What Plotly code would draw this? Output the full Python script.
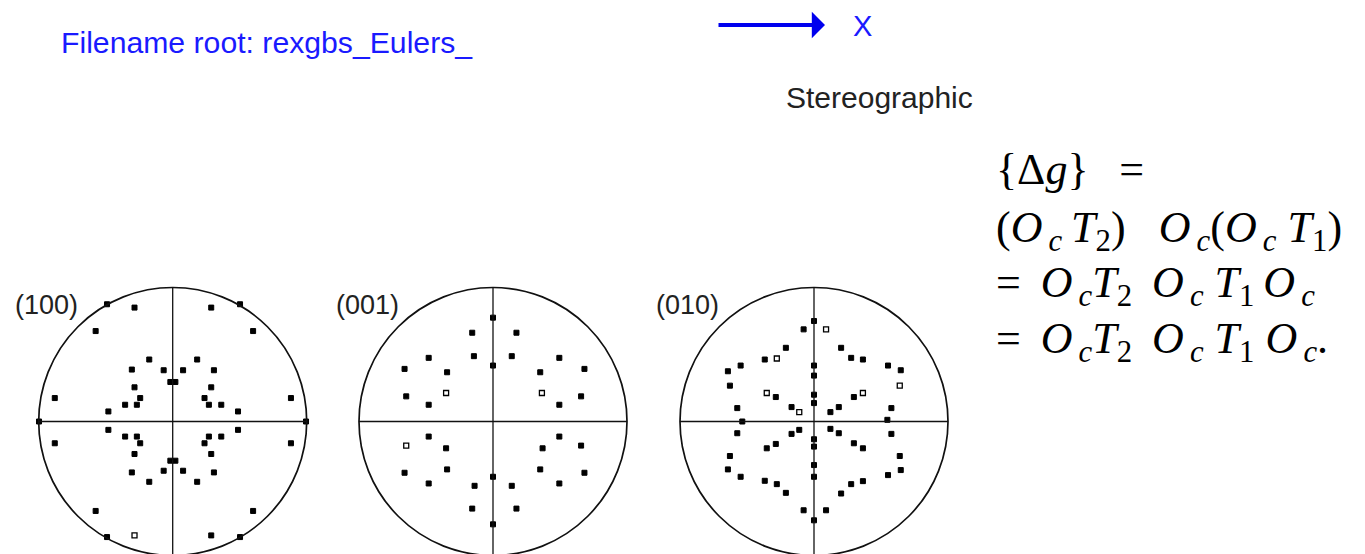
import plotly.graph_objects as go

# Pole figure projections (unit circle = equator of the stereographic net)
pf100_x = [-0.49, -0.285, 0.2875, 0.5025, -0.575, 0.60, -0.175, 0.1825, -0.305, -0.0675,
           0.0775, 0.3075, -0.0175, 0.02, -0.285, 0.2875, -0.2425, 0.2375, -0.355, -0.2675,
           0.27, 0.3625, -0.48, 0.4875, -0.88, 0.8825, -0.9975, 0.995, -0.48, 0.4875,
           -0.355, -0.2675, -0.2425, 0.2375, 0.27, 0.3625, -0.88, 0.8825, -0.285, 0.2875,
           -0.0175, 0.02, -0.305, -0.0675, 0.0775, 0.3075, -0.175, 0.1825, -0.575, 0.60,
           -0.49, 0.2875, 0.5025]
pf100_y = [0.875, 0.85, 0.85, 0.875, 0.675, 0.675, 0.4625, 0.4625, 0.3875, 0.3825,
           0.3825, 0.3825, 0.295, 0.295, 0.255, 0.255, 0.175, 0.175, 0.125, 0.125,
           0.125, 0.125, 0.075, 0.075, 0.175, 0.175, 0.0, 0.0, -0.0625, -0.0625,
           -0.1125, -0.1125, -0.1625, -0.1625, -0.1125, -0.1125, -0.1625, -0.1625, -0.2425, -0.2425,
           -0.2925, -0.2925, -0.38, -0.3675, -0.3675, -0.38, -0.45, -0.45, -0.6675, -0.6675,
           -0.8625, -0.85, -0.8625]
pf100_open_x = [-0.285]
pf100_open_y = [-0.85]

pf001_x = [0.0, 0.0, 0.0, 0.0, -0.155, 0.175, -0.1425, 0.14, -0.48, 0.495,
           -0.66, 0.6825, -0.3425, 0.3525, -0.6475, 0.6575, -0.48, 0.495, -0.48, 0.495,
           0.6575, -0.35, 0.37, -0.66, 0.6825, -0.3425, 0.3525, -0.48, 0.495, -0.1375,
           0.14, -0.155, 0.175]
pf001_y = [0.775, 0.4175, -0.4125, -0.7675, 0.6625, 0.6625, 0.4875, 0.4875, 0.475, 0.475,
           0.3925, 0.3925, 0.3675, 0.3675, 0.1875, 0.1875, 0.125, 0.125, -0.1125, -0.1125,
           -0.18, -0.2, -0.2, -0.3825, -0.3825, -0.3575, -0.3575, -0.4625, -0.4625, -0.48,
           -0.48, -0.65, -0.65]
pf001_open_x = [-0.35, 0.365, -0.6475]
pf001_open_y = [0.2125, 0.2125, -0.18]

pf010_x = [0.0, 0.0, -0.0775, -0.21, 0.2025, -0.3675, 0.2775, 0.365, -0.5475, -0.6425,
           0.5525, 0.6475, -0.6275, 0.0, 0.0, 0.0, 0.0, -0.285, 0.2975, -0.5725,
           0.5775, -0.1675, 0.1225, 0.185, -0.535, 0.5475, -0.5725, 0.5775, -0.1675, -0.11,
           0.1225, 0.185, -0.3525, -0.285, 0.2975, 0.365, 0.0, 0.0, 0.0, 0.0,
           -0.6275, 0.64, -0.6425, -0.5475, 0.5525, 0.6475, -0.3675, -0.2775, -0.21, 0.2025,
           0.2775, 0.365, -0.0775, 0.09]
pf010_y = [0.75, -0.7375, 0.6875, 0.55, 0.55, 0.4625, 0.475, 0.4625, 0.4175, 0.375,
           0.4175, 0.3825, 0.2675, 0.4175, 0.3425, 0.2, 0.1375, 0.1825, 0.1825, 0.1,
           0.1, 0.1075, 0.07, 0.1075, 0.0, 0.0125, -0.0875, -0.0925, -0.0925, -0.0625,
           -0.055, -0.0875, -0.2, -0.1675, -0.1625, -0.2, -0.1325, -0.1875, -0.325, -0.4125,
           -0.2575, -0.2575, -0.3575, -0.4125, -0.4, -0.3625, -0.4425, -0.4675, -0.5325, -0.5375,
           -0.4675, -0.445, -0.6625, -0.6625]
pf010_open_x = [0.09, -0.2775, 0.64, -0.3525, 0.365, -0.11]
pf010_open_y = [0.6875, 0.47, 0.2675, 0.2125, 0.2125, 0.07]

pole_labels = ["(100)", "(001)", "(010)"]
filled = [(pf100_x, pf100_y), (pf001_x, pf001_y), (pf010_x, pf010_y)]
hollow = [(pf100_open_x, pf100_open_y), (pf001_open_x, pf001_open_y), (pf010_open_x, pf010_open_y)]

# Page geometry (pixels)
W, H = 1365, 554
R = 134.0                       # net radius in px
centers_x = [172.7, 493.0, 814.0]
center_y_from_top = 421.5
span = 1.2                      # axis half-range in net units

fig = go.Figure()
layout = dict(width=W, height=H, margin=dict(l=0, r=0, t=0, b=0),
              paper_bgcolor="white", plot_bgcolor="white", showlegend=False)

y_low = -(H - center_y_from_top) / R
y_dom_top = ((H - center_y_from_top) + span * R) / H

sans = "Liberation Sans, Arial, Helvetica"
serif = "Liberation Serif, Times New Roman, serif"

shapes = []
annotations = []
for i in range(3):
    sfx = "" if i == 0 else str(i + 1)
    cx = centers_x[i]
    layout["xaxis" + sfx] = dict(domain=[(cx - span * R) / W, (cx + span * R) / W],
                                 range=[-span, span], visible=False, fixedrange=True)
    layout["yaxis" + sfx] = dict(domain=[0, y_dom_top], range=[y_low, span],
                                 visible=False, fixedrange=True)
    xr, yr = "x" + sfx, "y" + sfx
    shapes.append(dict(type="circle", xref=xr, yref=yr, x0=-1, x1=1, y0=-1, y1=1,
                       line=dict(color="#111", width=1.7)))
    shapes.append(dict(type="line", xref=xr, yref=yr, x0=-1, x1=1, y0=0, y1=0,
                       line=dict(color="#111", width=1.3)))
    shapes.append(dict(type="line", xref=xr, yref=yr, x0=0, x1=0, y0=-1, y1=1,
                       line=dict(color="#111", width=1.3)))
    fx, fy = filled[i]
    fig.add_trace(go.Scatter(x=fx, y=fy, mode="markers", xaxis=xr, yaxis=yr,
                             marker=dict(symbol="square", size=5, color="black",
                                         line=dict(width=1, color="black"))))
    hx, hy = hollow[i]
    fig.add_trace(go.Scatter(x=hx, y=hy, mode="markers", xaxis=xr, yaxis=yr,
                             marker=dict(symbol="square-open", size=5, color="black",
                                         line=dict(width=1.3, color="black"))))
    annotations.append(dict(xref=xr, yref=yr, x=(13 + 320.6 * i - cx) / R,
                            y=(center_y_from_top - 305) / R, text=pole_labels[i],
                            showarrow=False, xanchor="left", yanchor="middle",
                            font=dict(family=sans, size=27, color="#222")))

annotations.append(dict(xref="paper", yref="paper", x=59 / W, y=1 - 43 / H,
                        text="Filename root: rexgbs_Eulers_", showarrow=False,
                        xanchor="left", yanchor="middle",
                        font=dict(family=sans, size=30.2, color="#1a1aff")))
# direction arrow
annotations.append(dict(xref="paper", yref="paper", x=825 / W, y=1 - 25 / H,
                        axref="pixel", ayref="pixel", ax=-108, ay=0, text="",
                        showarrow=True, arrowhead=1, arrowsize=1.1, arrowwidth=4,
                        arrowcolor="#0000ee"))
annotations.append(dict(xref="paper", yref="paper", x=851 / W, y=1 - 26 / H,
                        text="X", showarrow=False, xanchor="left", yanchor="middle",
                        font=dict(family=sans, size=29, color="#1a1aff")))
annotations.append(dict(xref="paper", yref="paper", x=784 / W, y=1 - 97 / H,
                        text="Stereographic", showarrow=False, xanchor="left", yanchor="middle",
                        font=dict(family=sans, size=30, color="#222")))

# orientation relation, one line per annotation
ts = "\u2009"
Oc = "<i>O</i><sub><i>" + ts + "c</i></sub>"
T2 = "<i>T</i><sub>2</sub>"
T1 = "<i>T</i><sub>1</sub>"
eq_lines = [
    "{Δ<i>g</i>}" + ts + "  =",
    "(" + Oc + ts + T2 + ")   " + Oc + "(" + Oc + " " + T1 + ")",
    "= " + ts + Oc + T2 + " " + ts + Oc + " " + T1 + ts + Oc,
    "= " + ts + Oc + T2 + " " + ts + Oc + " " + T1 + " " + Oc + ".",
]
eq_y = [170, 231, 285, 341]
for txt, yy in zip(eq_lines, eq_y):
    annotations.append(dict(xref="paper", yref="paper", x=994 / W, y=1 - yy / H,
                            text=txt, showarrow=False, xanchor="left", yanchor="middle",
                            font=dict(family=serif, size=44, color="black")))

layout["shapes"] = shapes
layout["annotations"] = annotations
fig.update_layout(**layout)
fig.write_html("out.html")
